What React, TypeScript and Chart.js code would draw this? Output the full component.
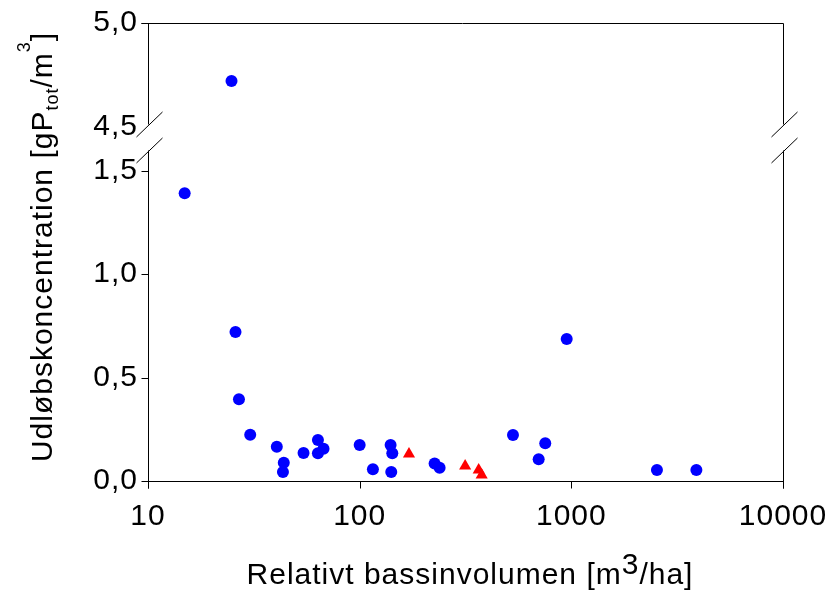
import React, { useEffect, useRef } from "react";
import { Chart, registerables } from "chart.js";

Chart.register(...registerables);

// Relative basin volume [m3/ha] and outlet concentration [gPtot/m3]
const circleVolumes = [14.9, 24.8, 25.9, 26.9, 30.4, 40.6, 43.8, 43.4, 54.3, 63.5, 63.5, 67.5, 100, 115.5, 140, 142.6, 141, 226, 238.6, 530, 701, 753, 951, 2538, 3897];
const circleConc = [1.39, 4.72, 0.72, 0.395, 0.224, 0.166, 0.088, 0.043, 0.135, 0.198, 0.134, 0.156, 0.174, 0.057, 0.174, 0.134, 0.043, 0.085, 0.064, 0.222, 0.105, 0.182, 0.686, 0.053, 0.053];
const triangleVolumes = [171, 315, 365, 377];
const triangleConc = [0.13, 0.072, 0.053, 0.029];

const xTicks = [10, 100, 1000, 10000];
const yTicks = [0, 0.5, 1.0, 1.5, 4.5, 5.0];

// broken y axis: values from UPPER_START upward are moved down to UPPER_POS
const UPPER_START = 4.5;
const UPPER_POS = 1.713;
const Y_MAX = 2.213;
const toAxis = (v: number) => (v >= UPPER_START ? v - UPPER_START + UPPER_POS : v);

const FONT = "'Liberation Sans', Arial, sans-serif";

const spacingPlugin = {
  id: "spacing",
  beforeLayout(chart: any) {
    chart.ctx.letterSpacing = "1px";
  },
  beforeDraw(chart: any) {
    chart.ctx.letterSpacing = "1px";
  },
};

const framePlugin = {
  id: "frame",
  afterDraw(chart: any) {
    const { ctx, chartArea, scales } = chart;
    const L = Math.round(chartArea.left) + 0.5;
    const R = Math.round(chartArea.right) + 0.5;
    const T = Math.round(chartArea.top) + 0.5;
    const B = Math.round(chartArea.bottom) + 0.5;
    const y45 = scales.y.getPixelForValue(toAxis(4.5));
    const c1 = y45 - 2;
    const c2 = y45 + 24;
    ctx.save();
    ctx.strokeStyle = "#000";
    ctx.lineWidth = 1;
    ctx.beginPath();
    ctx.moveTo(L - 7, T); ctx.lineTo(R, T);
    ctx.moveTo(L, B); ctx.lineTo(R, B);
    for (const X of [L, R]) {
      ctx.moveTo(X, T); ctx.lineTo(X, c1);
      ctx.moveTo(X, c2); ctx.lineTo(X, B + 7);
      ctx.moveTo(X - 12, c1 + 12.5); ctx.lineTo(X + 14, c1 - 12.5);
      ctx.moveTo(X - 12, c2 + 12.5); ctx.lineTo(X + 14, c2 - 12.5);
    }
    for (const v of yTicks) {
      if (v === 4.5) continue;
      const py = Math.round(scales.y.getPixelForValue(toAxis(v))) + 0.5;
      ctx.moveTo(L - 7, py); ctx.lineTo(L, py);
    }
    for (const v of xTicks) {
      const px = Math.round(scales.x.getPixelForValue(v)) + 0.5;
      ctx.moveTo(px, B); ctx.lineTo(px, B + 7);
    }
    ctx.stroke();

    ctx.fillStyle = "#000";
    ctx.textBaseline = "alphabetic";
    ctx.letterSpacing = "1px";
    const big = `30px ${FONT}`;
    const small = `18px ${FONT}`;
    const parts: [string, string, number][] = [
      ["Udløbskoncentration [gP", big, 0],
      ["tot", small, 6],
      ["/m", big, 0],
      ["3", small, -22],
      ["]", big, 0],
    ];
    let total = 0;
    for (const [t, f] of parts) { ctx.font = f; total += ctx.measureText(t).width; }
    ctx.translate(52, 247);
    ctx.rotate(-Math.PI / 2);
    let x = -total / 2;
    for (const [t, f, dy] of parts) {
      ctx.font = f;
      ctx.fillText(t, x, dy);
      x += ctx.measureText(t).width;
    }
    ctx.setTransform(1, 0, 0, 1, 0, 0);

    const xparts: [string, string, number][] = [
      ["Relativt bassinvolumen [m", big, 0],
      ["3", big, -10],
      ["/ha]", big, 0],
    ];
    total = 0;
    for (const [t, f] of xparts) { ctx.font = f; total += ctx.measureText(t).width; }
    x = 470 - total / 2;
    for (const [t, f, dy] of xparts) {
      ctx.font = f;
      ctx.fillText(t, x, 584 + dy);
      x += ctx.measureText(t).width;
    }
    ctx.restore();
  },
};

export default function App() {
  const ref = useRef<HTMLCanvasElement>(null);
  useEffect(() => {
    if (!ref.current) return;
    const chart = new Chart(ref.current, {
      type: "scatter",
      data: {
        datasets: [
          {
            data: circleVolumes.map((x, i) => ({ x, y: toAxis(circleConc[i]) })),
            pointStyle: "circle",
            pointRadius: 6,
            backgroundColor: "#0000FF",
            borderColor: "#0000FF",
            borderWidth: 0,
          },
          {
            data: triangleVolumes.map((x, i) => ({ x, y: toAxis(triangleConc[i]) })),
            pointStyle: "triangle",
            pointRadius: 7,
            backgroundColor: "#FF0000",
            borderColor: "#FF0000",
            borderWidth: 0,
          },
        ],
      },
      options: {
        responsive: false,
        animation: false,
        devicePixelRatio: 1,
        layout: { padding: { top: 23, right: 57, left: 0, bottom: 0 } },
        plugins: { legend: { display: false }, tooltip: { enabled: false } },
        scales: {
          x: {
            type: "logarithmic",
            min: 10,
            max: 10000,
            afterBuildTicks: (s: any) => {
              s.ticks = xTicks.map((v) => ({ value: v }));
            },
            afterFit: (s: any) => {
              s.height = 123;
              s.paddingLeft = 0;
              s.paddingRight = 0;
            },
            ticks: {
              callback: (v: any) => String(v),
              font: { family: FONT, size: 30 },
              color: "#000",
              padding: 18,
              maxRotation: 0,
              autoSkip: false,
            },
            grid: { display: false, drawTicks: false },
            border: { display: false },
          },
          y: {
            type: "linear",
            min: 0,
            max: Y_MAX,
            afterBuildTicks: (s: any) => {
              s.ticks = yTicks.map((v) => ({ value: toAxis(v) }));
            },
            afterFit: (s: any) => {
              s.width = 148;
              s.paddingTop = 0;
              s.paddingBottom = 0;
            },
            ticks: {
              callback: (_v: any, i: number) => yTicks[i].toFixed(1).replace(".", ","),
              font: { family: FONT, size: 30 },
              color: "#000",
              padding: 10,
              autoSkip: false,
            },
            grid: { display: false, drawTicks: false },
            border: { display: false },
          },
        },
      },
      plugins: [spacingPlugin, framePlugin],
    });
    return () => chart.destroy();
  }, []);
  return (
    <div style={{ position: "absolute", left: 0, top: 0, width: 840, height: 604 }}>
      <canvas ref={ref} width={840} height={604} />
    </div>
  );
}
